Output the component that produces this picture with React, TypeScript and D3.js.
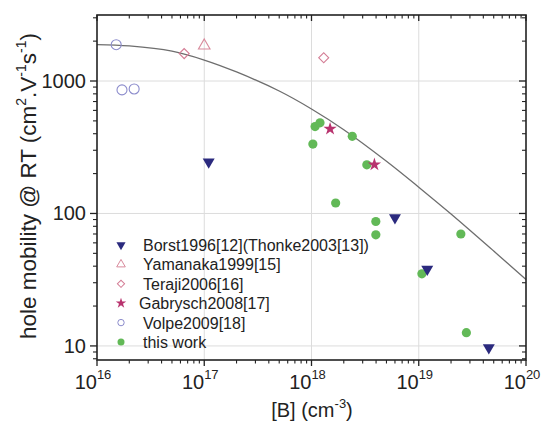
import React from 'react';
import * as d3 from 'd3';

// concentration [B] (cm^-3) and hole mobility (cm^2/Vs)
const borstX = [1.1e17, 6.0e18, 1.2e19, 4.5e19];
const borstY = [245, 93, 38, 9.7];
const yamanakaX = [1.0e17];
const yamanakaY = [1850];
const terajiX = [6.5e16, 1.3e18];
const terajiY = [1610, 1500];
const gabryschX = [1.49e18, 3.86e18];
const gabryschY = [435, 234];
const volpeX = [1.51e16, 1.71e16, 2.22e16];
const volpeY = [1880, 857, 871];
const thisWorkX = [1.03e18, 1.08e18, 1.2e18, 2.4e18, 3.28e18, 1.68e18, 3.98e18, 3.98e18, 1.07e19, 2.47e19, 2.78e19];
const thisWorkY = [334, 453, 483, 382, 233, 120, 87, 69, 35, 70, 12.6];

// fitted model line (gray)
const fitX = [1e16, 2e16, 5e16, 1e17, 2e17, 5e17, 1e18, 2e18, 5e18, 1e19, 2e19, 5e19, 1e20];
const fitY = [1885, 1840, 1680, 1440, 1170, 840, 615, 429, 248, 158, 99, 52, 31.7];

const legendLabels = [
  'Borst1996[12](Thonke2003[13])',
  'Yamanaka1999[15]',
  'Teraji2006[16]',
  'Gabrysch2008[17]',
  'Volpe2009[18]',
  'this work',
];

const xMajor = [1e16, 1e17, 1e18, 1e19, 1e20];
const yMajor = [10, 100, 1000];

const W = 545;
const H = 425;
const M = { left: 97, right: 526, top: 15, bottom: 360 };
const FONT = '"Liberation Sans", Arial, sans-serif';

const NAVY = '#2b2a7e';
const PINK = '#d88a9c';
const PINK2 = '#d47d95';
const CRIMSON = '#b8336e';
const LAVENDER = '#8c8ccc';
const GREEN = '#62b957';

type Pt = [number, number];

function zip(xs: number[], ys: number[]): Pt[] {
  return xs.map((v, i) => [v, ys[i]]);
}

export default function App() {
  const x = d3.scaleLog().domain([1e16, 1e20]).range([M.left, M.right]);
  const y = d3.scaleLog().domain([7.83, 3150]).range([M.bottom, M.top]);

  const xMinor: number[] = [];
  for (let e = 16; e < 20; e++) for (let k = 2; k <= 9; k++) xMinor.push(k * Math.pow(10, e));
  const yMinor = [8, 9, 20, 30, 40, 50, 60, 70, 80, 90, 200, 300, 400, 500, 600, 700, 800, 900, 2000, 3000];

  const line = d3
    .line<Pt>()
    .x((d) => x(d[0]))
    .y((d) => y(d[1]))
    .curve(d3.curveCatmullRom.alpha(0.5));

  const triDown = d3.symbol().type(d3.symbolTriangle).size(62)() as string;
  const triUp = d3.symbol().type(d3.symbolTriangle).size(58)() as string;
  const diamond = d3.symbol().type(d3.symbolSquare).size(50)() as string;
  const star = d3.symbol().type(d3.symbolStar).size(55)() as string;
  const triDownS = d3.symbol().type(d3.symbolTriangle).size(36)() as string;
  const triUpS = d3.symbol().type(d3.symbolTriangle).size(32)() as string;
  const diamondS = d3.symbol().type(d3.symbolSquare).size(26)() as string;
  const starS = d3.symbol().type(d3.symbolStar).size(34)() as string;

  const legendY = d3.scalePoint<number>().domain(d3.range(legendLabels.length)).range([245, 342]);
  const legendMarkers = [
    <path d={triDownS} fill={NAVY} transform="rotate(180)" />,
    <path d={triUpS} fill="none" stroke={PINK} strokeWidth={1} />,
    <path d={diamondS} fill="none" stroke={PINK2} strokeWidth={1} transform="rotate(45)" />,
    <path d={starS} fill={CRIMSON} />,
    <circle r={3.2} fill="none" stroke={LAVENDER} strokeWidth={1} />,
    <circle r={3.5} fill={GREEN} />,
  ];
  const legendTextX = [143, 143, 143, 139, 143, 143];

  return (
    <svg
      width={W}
      height={H}
      style={{ position: 'fixed', left: 0, top: 0, background: '#fff', fontFamily: FONT }}
    >
      {/* grid */}
      {xMajor.slice(1, -1).map((v) => (
        <line key={'gx' + v} x1={x(v)} x2={x(v)} y1={M.top} y2={M.bottom} stroke="#dcdcdc" strokeWidth={1} />
      ))}
      {yMajor.map((v) => (
        <line key={'gy' + v} x1={M.left} x2={M.right} y1={y(v)} y2={y(v)} stroke="#dcdcdc" strokeWidth={1} />
      ))}

      {/* fit line */}
      <path d={line(zip(fitX, fitY)) as string} fill="none" stroke="#6e6e6e" strokeWidth={1.3} />

      {/* data */}
      {zip(volpeX, volpeY).map((d, i) => (
        <circle key={'v' + i} cx={x(d[0])} cy={y(d[1])} r={5} fill="none" stroke={LAVENDER} strokeWidth={1.1} />
      ))}
      {zip(yamanakaX, yamanakaY).map((d, i) => (
        <path key={'ya' + i} d={triUp} transform={`translate(${x(d[0])},${y(d[1])})`} fill="none" stroke={PINK} strokeWidth={1.1} />
      ))}
      {zip(terajiX, terajiY).map((d, i) => (
        <path key={'t' + i} d={diamond} transform={`translate(${x(d[0])},${y(d[1])}) rotate(45)`} fill="none" stroke={PINK2} strokeWidth={1.1} />
      ))}
      {zip(thisWorkX, thisWorkY).map((d, i) => (
        <circle key={'w' + i} cx={x(d[0])} cy={y(d[1])} r={4.6} fill={GREEN} />
      ))}
      {zip(gabryschX, gabryschY).map((d, i) => (
        <path key={'g' + i} d={star} transform={`translate(${x(d[0])},${y(d[1])})`} fill={CRIMSON} />
      ))}
      {zip(borstX, borstY).map((d, i) => (
        <path key={'b' + i} d={triDown} transform={`translate(${x(d[0])},${y(d[1])}) rotate(180)`} fill={NAVY} />
      ))}

      {/* axes frame */}
      <rect x={M.left} y={M.top} width={M.right - M.left} height={M.bottom - M.top} fill="none" stroke="#222" strokeWidth={1.6} />

      {/* bottom + top ticks */}
      {xMajor.map((v) => (
        <g key={'xt' + v}>
          <line x1={x(v)} x2={x(v)} y1={M.bottom} y2={M.bottom + 6} stroke="#222" strokeWidth={1.3} />
          <line x1={x(v)} x2={x(v)} y1={M.top} y2={M.top + 6} stroke="#222" strokeWidth={1.3} />
          <text x={x(v) - 4} y={389} fontSize={20} textAnchor="middle" fill="#222">
            10
            <tspan fontSize={13} dy={-10}>
              {Math.round(Math.log10(v))}
            </tspan>
          </text>
        </g>
      ))}
      {xMinor.map((v) => (
        <g key={'xm' + v}>
          <line x1={x(v)} x2={x(v)} y1={M.bottom} y2={M.bottom + 3.5} stroke="#222" strokeWidth={1.1} />
          <line x1={x(v)} x2={x(v)} y1={M.top} y2={M.top + 3.5} stroke="#222" strokeWidth={1.1} />
        </g>
      ))}

      {/* left + right ticks */}
      {yMajor.map((v) => (
        <g key={'yt' + v}>
          <line x1={M.left - 7} x2={M.left} y1={y(v)} y2={y(v)} stroke="#222" strokeWidth={1.3} />
          <line x1={M.right - 7} x2={M.right} y1={y(v)} y2={y(v)} stroke="#222" strokeWidth={1.3} />
          <text x={86} y={y(v) + 7} fontSize={20} textAnchor="end" fill="#222">
            {v}
          </text>
        </g>
      ))}
      {yMinor.map((v) => (
        <g key={'ym' + v}>
          <line x1={M.left - 4} x2={M.left} y1={y(v)} y2={y(v)} stroke="#222" strokeWidth={1.1} />
          <line x1={M.right - 4} x2={M.right} y1={y(v)} y2={y(v)} stroke="#222" strokeWidth={1.1} />
        </g>
      ))}

      {/* legend */}
      {legendLabels.map((lab, i) => (
        <g key={'l' + i} transform={`translate(0,${legendY(i)})`}>
          <g transform="translate(121,0)">{legendMarkers[i]}</g>
          <text x={legendTextX[i]} y={6} fontSize={16} fill="#222">
            {lab}
          </text>
        </g>
      ))}

      {/* axis titles */}
      <text x={312} y={417} fontSize={20} textAnchor="middle" fill="#222">
        [B] (cm
        <tspan fontSize={13} dy={-9}>-3</tspan>
        <tspan dy={9}>)</tspan>
      </text>
      <text transform="translate(36,186) rotate(-90)" fontSize={22.5} textAnchor="middle" fill="#222">
        hole mobility @ RT (cm
        <tspan fontSize={14} dy={-10}>2</tspan>
        <tspan dy={10}>.V</tspan>
        <tspan fontSize={14} dy={-10}>-1</tspan>
        <tspan dy={10}>s</tspan>
        <tspan fontSize={14} dy={-10}>-1</tspan>
        <tspan dy={10}>)</tspan>
      </text>
    </svg>
  );
}
